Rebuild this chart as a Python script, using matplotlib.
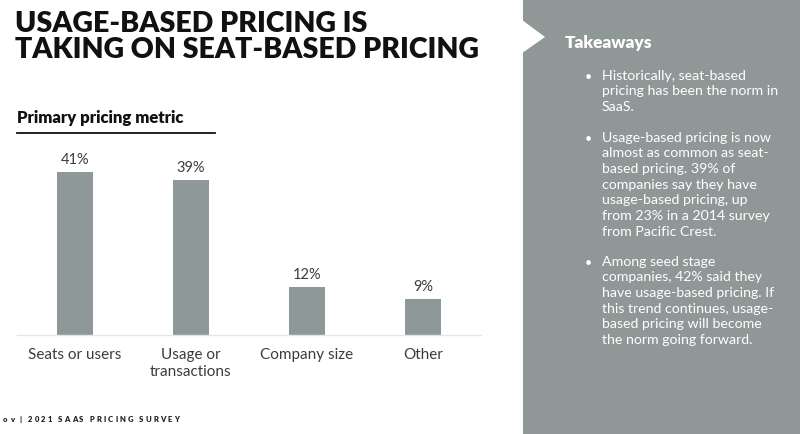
import matplotlib.pyplot as plt
from matplotlib.patches import Polygon, Rectangle

W, H = 800, 435

categories = ["Seats or users", "Usage or\ntransactions", "Company size", "Other"]
shares = [41, 39, 12, 9]
value_labels = ["41%", "39%", "12%", "9%"]

title_lines = "USAGE-BASED PRICING IS\nTAKING ON SEAT-BASED PRICING"
subtitle = "Primary pricing metric"
footer = "ov | 2021 SAAS PRICING SURVEY"
panel_title = "Takeaways"
takeaways = [
    "Historically, seat-based\npricing has been the norm in\nSaaS.",
    "Usage-based pricing is now\nalmost as common as seat-\nbased pricing. 39% of\ncompanies say they have\nusage-based pricing, up\nfrom 23% in a 2014 survey\nfrom Pacific Crest.",
    "Among seed stage\ncompanies, 42% said they\nhave usage-based pricing. If\nthis trend continues, usage-\nbased pricing will become\nthe norm going forward.",
]

BAR_COLOR = "#8f9898"
PANEL_COLOR = "#8f9797"
TEXT_GRAY = "#3c3c3c"
FONT = "Lato"


def fx(x):
    return x / W


def fy(y):
    return 1 - y / H


def tracked_text(fig, x, y, text, tracking, **kw):
    # draw char by char so the letter spacing can be widened
    renderer = fig.canvas.get_renderer()
    cur = x
    for ch in text:
        t = fig.text(fx(cur), fy(y), ch, ha="left", va="center", **kw)
        w = t.get_window_extent(renderer).width if ch.strip() else kw.get("fontsize", 6) * 0.35
        cur += w + tracking


fig = plt.figure(figsize=(8, 4.35), dpi=100)

# right takeaways panel with white notch
fig.patches.append(Rectangle((fx(523), 0), 1 - fx(523), 1, transform=fig.transFigure,
                             facecolor=PANEL_COLOR, edgecolor="none"))
fig.patches.append(Polygon([(fx(518), fy(18)), (fx(545), fy(38)), (fx(518), fy(57))],
                           closed=True, transform=fig.transFigure,
                           facecolor="white", edgecolor="none"))

# bar chart
ax = fig.add_axes([fx(17), 1 - 336 / H, fx(481) - fx(17), 198.5 / H])
ax.set_facecolor("none")
xs = range(len(categories))
ax.bar(xs, shares, width=0.31, color=BAR_COLOR)
for x, v, lab in zip(xs, shares, value_labels):
    ax.annotate(lab, (x, v), xytext=(0, 4.5), textcoords="offset points",
                ha="center", va="bottom", fontsize=10.5, color=TEXT_GRAY, family=FONT)
ax.set_xlim(-0.5, 3.5)
ax.set_ylim(0, 50)
ax.set_xticks(list(xs))
ax.set_xticklabels(categories, fontsize=11, color=TEXT_GRAY, family=FONT, linespacing=1.2)
ax.tick_params(axis="x", length=0, pad=9)
ax.set_yticks([])
for side in ["top", "left", "right"]:
    ax.spines[side].set_visible(False)
ax.spines["bottom"].set_color("#e3e6e6")
ax.spines["bottom"].set_linewidth(1.0)

# headings
fig.text(fx(15), fy(11), title_lines, ha="left", va="top", fontsize=20.5,
         fontweight="heavy", family=FONT, color="#111111", linespacing=1.02)
fig.text(fx(17), fy(118), subtitle, ha="left", va="center", fontsize=12,
         fontweight="heavy", family=FONT, color="#111111")
fig.add_artist(plt.Line2D([fx(17), fx(215)], [fy(134), fy(134)], color="#111111", linewidth=1.3))
tracked_text(fig, 3, 420, footer, 2.1, fontsize=5.5, fontweight="heavy",
             family=FONT, color="#222222")

# takeaways text
fig.text(fx(565), fy(43), panel_title, ha="left", va="center", fontsize=12.5,
         fontweight="heavy", family=FONT, color="white")
starts = [77, 139, 263]
for y0, item in zip(starts, takeaways):
    fig.text(fx(585), fy(y0), "\u2022", ha="left", va="center", fontsize=9,
             family=FONT, color="white")
    fig.text(fx(602), fy(y0 - 7.5), item, ha="left", va="top", fontsize=10.2,
             family=FONT, color="white", linespacing=1.37)

fig.savefig("out.png", dpi=100)
